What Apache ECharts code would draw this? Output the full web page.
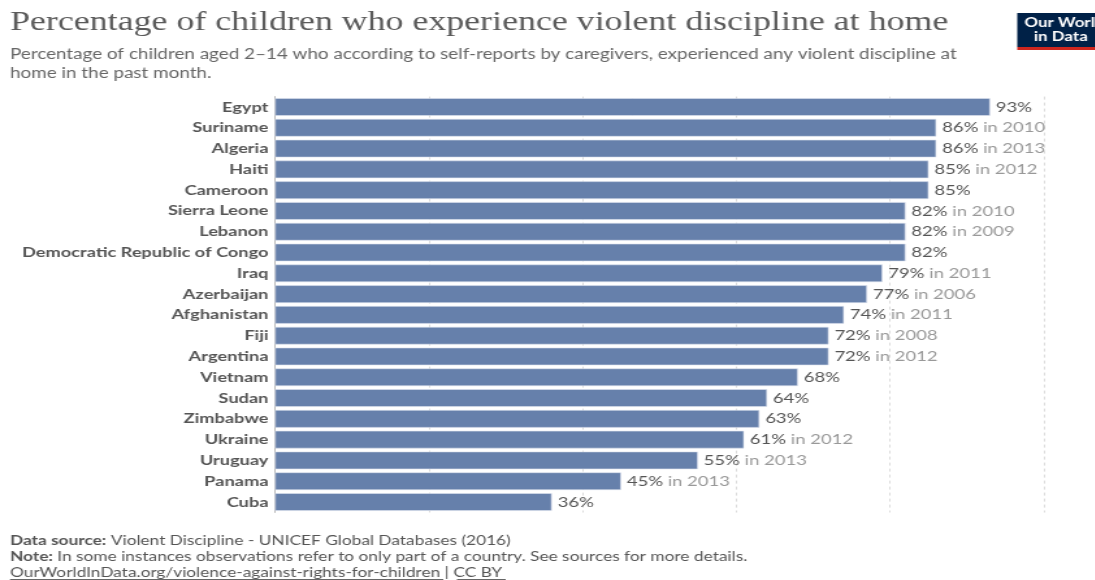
<!DOCTYPE html>
<html><head><meta charset="utf-8">
<style>html,body{margin:0;padding:0;background:#fff;overflow:hidden}#c{width:842px;height:580px;transform:scaleX(1.3);transform-origin:0 0}</style>
<script src="https://cdn.jsdelivr.net/npm/echarts@6/dist/echarts.min.js"></script>
</head><body><div id="c"></div>
<script>
const countries = ["Egypt","Suriname","Algeria","Haiti","Cameroon","Sierra Leone","Lebanon","Democratic Republic of Congo","Iraq","Azerbaijan","Afghanistan","Fiji","Argentina","Vietnam","Sudan","Zimbabwe","Ukraine","Uruguay","Panama","Cuba"];
const values = [93,86,86,85,85,82,82,82,79,77,74,72,72,68,64,63,61,55,45,36];
const years = ["","2010","2013","2012","","2010","2009","","2011","2006","2011","2008","2012","","","","2012","2013","2013",""];
const xTicks = [0,20,40,60,80,100];

const chart = echarts.init(document.getElementById('c'));
chart.setOption({
  animation:false,
  backgroundColor:'#fff',
  grid:{left:211.5,right:39,top:96.6,bottom:67.6},
  xAxis:{type:'value',min:xTicks[0],max:xTicks[xTicks.length-1],interval:20,
    axisLabel:{show:false},axisTick:{show:false},axisLine:{show:false},
    splitLine:{show:true,lineStyle:{color:'#dcdcdc',type:[3,3],width:1}}},
  yAxis:{type:'category',data:countries,inverse:true,
    axisTick:{show:false},
    axisLine:{show:true,lineStyle:{color:'#bbb',width:1}},
    axisLabel:{fontFamily:'Lato',fontWeight:'bold',fontSize:14,color:'#555',margin:5}},
  series:[{type:'bar',barCategoryGap:'15%',
    data:values,
    itemStyle:{color:'#6680ab',borderColor:'#dde3ee',borderWidth:0.6},
    label:{show:true,position:'right',distance:4.5,
      formatter:p=>'{a|'+p.value+'%}'+(years[p.dataIndex]?'{b| in '+years[p.dataIndex]+'}':''),
      rich:{a:{fontFamily:'Lato',fontSize:14.2,color:'#555'},b:{fontFamily:'Lato',fontSize:14.2,color:'#999'}}}
  }],
  graphic:[
    {type:'text',left:7.7,top:9,style:{text:'Percentage of children who experience violent discipline at home',fontFamily:'Liberation Serif',fontSize:27.6,fill:'#5b5b5b'}},
    {type:'text',left:7.7,top:45,style:{text:'Percentage of children aged 2–14 who according to self-reports by caregivers, experienced any violent discipline at\nhome in the past month.',fontFamily:'Lato',fontSize:14.5,lineHeight:19,fill:'#666'}},
    {type:'rect',shape:{x:782.5,y:13,width:60,height:34},style:{fill:'#002147'}},
    {type:'rect',shape:{x:782.5,y:47,width:60,height:3},style:{fill:'#ce261e'}},
    {type:'text',x:788,y:16,style:{text:'Our World',fontFamily:'Lato',fontWeight:'bold',fontSize:13,fill:'#fff',align:'left'}},
    {type:'text',x:816,y:30,style:{text:'in Data',fontFamily:'Lato',fontWeight:'bold',fontSize:13,fill:'#fff',align:'center'}},
    {type:'text',left:7.7,top:534,style:{text:'{b|Data source:} Violent Discipline - UNICEF Global Databases (2016)',fontFamily:'Lato',fontSize:13.3,fill:'#555',rich:{b:{fontFamily:'Lato',fontWeight:'bold',fontSize:13.3,fill:'#555'}}}},
    {type:'text',left:7.7,top:550,style:{text:'{b|Note:} In some instances observations refer to only part of a country. See sources for more details.',fontFamily:'Lato',fontSize:13.3,fill:'#555',rich:{b:{fontFamily:'Lato',fontWeight:'bold',fontSize:13.3,fill:'#555'}}}},
    {type:'text',left:7.7,top:566,style:{text:'OurWorldInData.org/violence-against-rights-for-children | CC BY',fontFamily:'Lato',fontSize:13.3,fill:'#555'}},
    {type:'line',shape:{x1:7.7,y1:579.5,x2:341,y2:579.5},style:{stroke:'#666',lineWidth:1}},
    {type:'line',shape:{x1:351.5,y1:579.5,x2:389,y2:579.5},style:{stroke:'#666',lineWidth:1}}
  ]
});
</script></body></html>
